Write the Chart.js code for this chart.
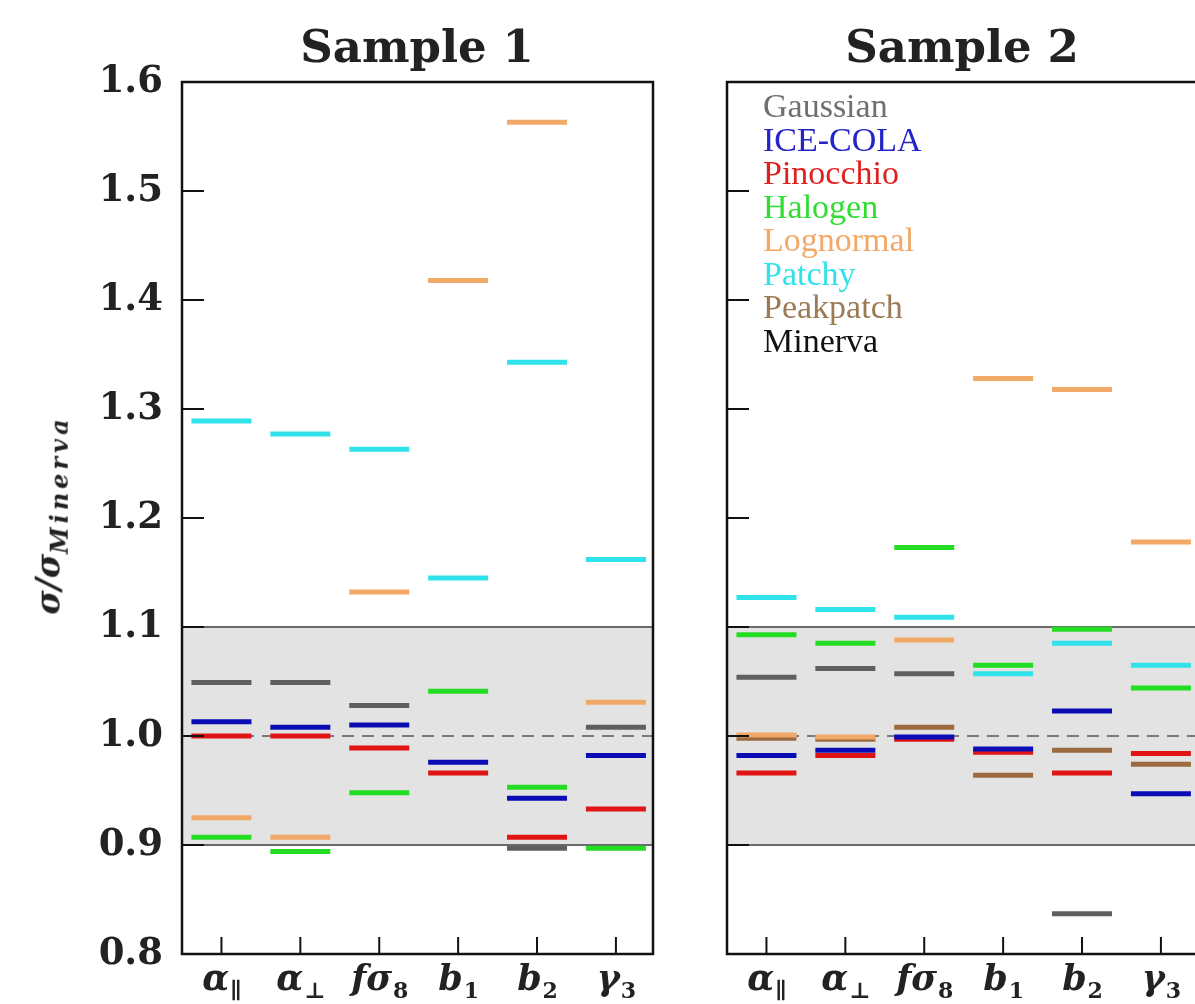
<!DOCTYPE html>
<html>
<head>
<meta charset="utf-8">
<script src="https://cdn.jsdelivr.net/npm/chart.js@4.4.0/dist/chart.umd.min.js"></script>
<style>
html, body { margin: 0; padding: 0; background: #fff; overflow: hidden; }
#wrap { position: relative; width: 1195px; height: 1004px; overflow: hidden; }
canvas { position: absolute; top: 0; }
.title { position: absolute; top: 20px; font: bold 45px "DejaVu Serif"; color: #222; transform: translateX(-50%); white-space: nowrap; }
#legend { position: absolute; left: 763px; top: 89px; font: 34px "Liberation Serif"; line-height: 33.5px; }
#ytitle { position: absolute; left: 51px; top: 515px; transform: translate(-50%, -50%) rotate(-90deg); font: italic bold 33px "DejaVu Serif"; color: #222; white-space: nowrap; }
#ytitle sub { font-size: 24px; letter-spacing: 4px; }
</style>
</head>
<body>
<div id="wrap">
  <canvas id="c1" width="690" height="1004" style="left:0"></canvas>
  <canvas id="c2" width="545" height="1004" style="left:690px"></canvas>
  <div class="title" style="left:417px">Sample 1</div>
  <div class="title" style="left:962px">Sample 2</div>
  <div id="ytitle">σ/σ<sub>Minerva</sub></div>
  <div id="legend"></div>
</div>
<script>
// parameters on the x axis (main symbol + subscript)
var xMain = ['α', 'α', 'fσ', 'b', 'b', 'γ'];
var xSub = ['∥', '⊥', '8', '1', '2', '3'];
var yTicks = [0.8, 0.9, 1.0, 1.1, 1.2, 1.3, 1.4, 1.5, 1.6];

var simNames = ['Gaussian', 'ICE-COLA', 'Pinocchio', 'Halogen', 'Lognormal', 'Patchy', 'Peakpatch', 'Minerva'];
var simColors = ['#5f5f5f', '#0c0cb4', '#e01414', '#22dd22', '#f2a866', '#30e2ea', '#9b6b3f', '#111111'];
var legendColors = ['#707070', '#2424c8', '#e02020', '#30dd30', '#f2a866', '#30e2ea', '#9b7b55', '#111111'];

// Sample 1
var s1Gaussian  = [1.049, 1.049, 1.028, null, 0.897, 1.008];
var s1IceCola   = [1.013, 1.008, 1.010, 0.976, 0.943, 0.982];
var s1Pinocchio = [1.000, 1.000, 0.989, 0.966, 0.907, 0.933];
var s1Halogen   = [0.907, 0.894, 0.948, 1.041, 0.953, 0.897];
var s1Lognormal = [0.925, 0.907, 1.132, 1.418, 1.563, 1.031];
var s1Patchy    = [1.289, 1.277, 1.263, 1.145, 1.343, 1.162];
var s1Peakpatch = [null, null, null, null, null, null];

// Sample 2
var s2Gaussian  = [1.054, 1.062, 1.057, null, 0.837, null];
var s2IceCola   = [0.982, 0.987, 0.999, 0.988, 1.023, 0.947];
var s2Pinocchio = [0.966, 0.982, 0.997, 0.985, 0.966, 0.984];
var s2Halogen   = [1.093, 1.085, 1.173, 1.065, 1.098, 1.044];
var s2Lognormal = [1.001, 0.999, 1.088, 1.328, 1.318, 1.178];
var s2Patchy    = [1.127, 1.116, 1.109, 1.057, 1.085, 1.065];
var s2Peakpatch = [0.998, 0.997, 1.008, 0.964, 0.987, 0.974];

var sample1 = [s1Gaussian, s1IceCola, s1Pinocchio, s1Halogen, s1Lognormal, s1Patchy, s1Peakpatch];
var sample2 = [s2Gaussian, s2IceCola, s2Pinocchio, s2Halogen, s2Lognormal, s2Patchy, s2Peakpatch];

// legend text
var leg = document.getElementById('legend');
simNames.forEach(function (n, i) {
    var d = document.createElement('div');
    d.textContent = n;
    d.style.color = legendColors[i];
    leg.appendChild(d);
});

function makeDatasets(sample) {
    return sample.map(function (vals, k) {
        var pts = [];
        vals.forEach(function (v, i) {
            if (v !== null) pts.push({ x: i, y: v });
        });
        return {
            label: simNames[k],
            data: pts,
            showLine: false,
            pointStyle: 'line',
            pointRadius: 30,
            pointHoverRadius: 30,
            pointBorderWidth: 5,
            borderColor: simColors[k],
            backgroundColor: simColors[k]
        };
    });
}

var panelPlugin = {
    id: 'panel',
    beforeDatasetsDraw: function (chart) {
        var ctx = chart.ctx, a = chart.chartArea, y = chart.scales.y;
        var yTop = y.getPixelForValue(1.1), yBot = y.getPixelForValue(0.9), y1 = y.getPixelForValue(1.0);
        ctx.save();
        ctx.fillStyle = '#e3e3e3';
        ctx.fillRect(a.left, yTop, a.right - a.left, yBot - yTop);
        ctx.strokeStyle = '#6a6a6a';
        ctx.lineWidth = 2;
        ctx.beginPath();
        ctx.moveTo(a.left, yTop); ctx.lineTo(a.right, yTop);
        ctx.moveTo(a.left, yBot); ctx.lineTo(a.right, yBot);
        ctx.stroke();
        ctx.setLineDash([12, 8]);
        ctx.strokeStyle = '#7a7a7a';
        ctx.beginPath();
        ctx.moveTo(a.left, y1); ctx.lineTo(a.right, y1);
        ctx.stroke();
        ctx.restore();
    },
    afterDraw: function (chart) {
        var ctx = chart.ctx, a = chart.chartArea, x = chart.scales.x, y = chart.scales.y;
        ctx.save();
        ctx.strokeStyle = '#111';
        ctx.lineWidth = 2;
        ctx.beginPath();
        yTicks.forEach(function (v) {
            var py = y.getPixelForValue(v);
            ctx.moveTo(a.left, py); ctx.lineTo(a.left + 22, py);
        });
        for (var i = 0; i < xMain.length; i++) {
            var px = x.getPixelForValue(i);
            ctx.moveTo(px, a.bottom); ctx.lineTo(px, a.bottom - 17);
        }
        ctx.stroke();
        ctx.lineWidth = 2.5;
        ctx.strokeRect(a.left, a.top, a.right - a.left, a.bottom - a.top);
        // x labels with subscripts
        ctx.fillStyle = '#222';
        ctx.textBaseline = 'alphabetic';
        ctx.textAlign = 'left';
        for (var j = 0; j < xMain.length; j++) {
            var cx = x.getPixelForValue(j);
            ctx.font = 'italic bold 35px "DejaVu Serif"';
            var mw = ctx.measureText(xMain[j]).width;
            ctx.font = 'bold 22px "DejaVu Serif"';
            var sw = ctx.measureText(xSub[j]).width;
            var x0 = cx - (mw + sw) / 2;
            ctx.font = 'italic bold 35px "DejaVu Serif"';
            ctx.fillText(xMain[j], x0, 990);
            ctx.font = 'bold 22px "DejaVu Serif"';
            ctx.fillText(xSub[j], x0 + mw + 1, 998);
        }
        ctx.restore();
    }
};

function makeChart(id, sample, yWidth, rightPad, showYLabels) {
    return new Chart(document.getElementById(id), {
        type: 'scatter',
        data: { datasets: makeDatasets(sample) },
        options: {
            responsive: false,
            animation: false,
            events: [],
            layout: { padding: { left: 0, right: rightPad, top: 82, bottom: 0 } },
            plugins: { legend: { display: false }, tooltip: { enabled: false } },
            scales: {
                x: {
                    type: 'linear', min: -0.5, max: 5.47,
                    grid: { display: false, drawTicks: false },
                    border: { display: false },
                    ticks: { display: false },
                    afterFit: function (s) { s.height = 50; }
                },
                y: {
                    min: 0.8, max: 1.6,
                    grid: { display: false, drawTicks: false },
                    border: { display: false },
                    afterBuildTicks: function (s) {
                        s.ticks = yTicks.map(function (v) { return { value: v }; });
                    },
                    ticks: {
                        display: showYLabels,
                        padding: 19,
                        color: '#222',
                        font: { family: 'DejaVu Serif', weight: 'bold', size: 37 },
                        callback: function (v) { return v.toFixed(1); }
                    },
                    afterFit: function (s) { s.width = yWidth; }
                }
            }
        },
        plugins: [panelPlugin]
    });
}

makeChart('c1', sample1, 182, 37, true);
makeChart('c2', sample2, 37, 37, false);
</script>
</body>
</html>
